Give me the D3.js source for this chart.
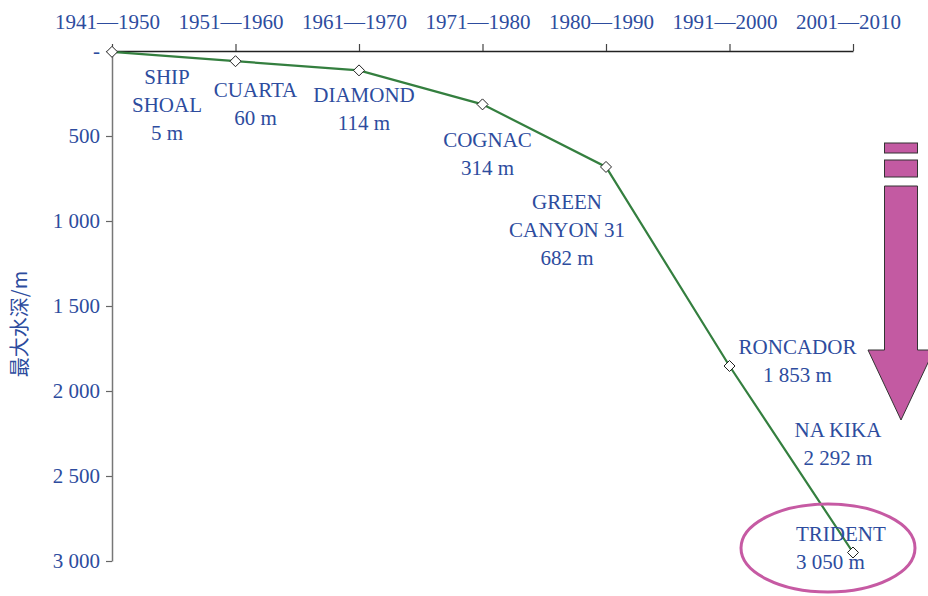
<!DOCTYPE html>
<html>
<head>
<meta charset="utf-8">
<script src="https://cdn.jsdelivr.net/npm/d3@7"></script>
<style>
  body { margin: 0; background: #fff; }
  svg { display: block; }
  text { font-family: "Liberation Serif", "Times New Roman", serif; fill: #2d4c9e; }
</style>
</head>
<body>
<div id="chart"></div>
<script>
// decades along the top axis
var decades = ["1941—1950", "1951—1960", "1961—1970", "1971—1980", "1980—1990", "1991—2000", "2001—2010"];
// max water depth reached in each decade (as plotted)
var depths = [5, 60, 114, 314, 682, 1853, 2950];
var yTicks = [0, 500, 1000, 1500, 2000, 2500, 3000];

// project names / depth labels
var notes = [
  {decade: "1941—1950", lines: ["SHIP", "SHOAL", "5 m"]},
  {decade: "1951—1960", lines: ["CUARTA", "60 m"]},
  {decade: "1961—1970", lines: ["DIAMOND", "114 m"]},
  {decade: "1971—1980", lines: ["COGNAC", "314 m"]},
  {decade: "1980—1990", lines: ["GREEN", "CANYON 31", "682 m"]},
  {decade: "1991—2000", lines: ["RONCADOR", "1 853 m"]},
  {decade: "2001—2010", lines: ["NA KIKA", "2 292 m"]},
  {decade: "2001—2010", lines: ["TRIDENT", "3 050 m"]}
];
// where each note sits (offset from its decade / depth in m)
var noteDx = [55, 20, 5, 5, -39, 68, -15, -57];
var noteDepth = [195, 270, 300, 565, 930, 1780, 2270, 2880];
var noteAnchor = ["middle", "middle", "middle", "middle", "middle", "middle", "middle", "start"];

var width = 928, height = 596;
var svg = d3.select("#chart").append("svg")
  .attr("width", width)
  .attr("height", height);

var x = d3.scalePoint().domain(decades).range([112, 853]);
var y = d3.scaleLinear().domain([0, 3000]).range([51, 561]);

// top axis
var xAxisG = svg.append("g").attr("transform", "translate(0," + y(0) + ")")
  .call(d3.axisTop(x).tickSize(7).tickPadding(15).tickSizeOuter(0));
xAxisG.select(".domain").attr("stroke", "#222").attr("stroke-width", 1.5);
xAxisG.selectAll(".tick line").attr("stroke", "#444").attr("stroke-width", 1.2);
xAxisG.selectAll(".tick text")
  .attr("font-size", 21)
  .attr("font-family", "Liberation Serif")
  .attr("fill", "#2d4c9e")
  .attr("dx", -5);

// left axis
var yAxisG = svg.append("g").attr("transform", "translate(" + x(decades[0]) + ",0)")
  .call(d3.axisLeft(y).tickValues(yTicks).tickSize(6).tickPadding(6).tickSizeOuter(0)
    .tickFormat(function (d) {
      if (d == 0) return "-";
      return d3.format(",")(d).replace(",", " ");
    }));
yAxisG.select(".domain").attr("stroke", "#777").attr("stroke-width", 1.5);
yAxisG.selectAll(".tick line").attr("stroke", "#666").attr("stroke-width", 1.2);
yAxisG.selectAll(".tick text")
  .attr("font-size", 21)
  .attr("font-family", "Liberation Serif")
  .attr("fill", "#2d4c9e");

// y axis title
svg.append("text")
  .attr("transform", "translate(27,324) rotate(-90)")
  .attr("text-anchor", "middle")
  .style("font-family", "'Noto Sans CJK SC', sans-serif")
  .attr("font-size", 20)
  .text("最大水深/m");

// arrow on the right
var ax = 901, hw = 16.5;
svg.append("rect").attr("x", ax - hw).attr("y", 143).attr("width", hw * 2).attr("height", 10)
  .attr("fill", "#c35aa2").attr("stroke", "#333").attr("stroke-width", 1);
svg.append("rect").attr("x", ax - hw).attr("y", 160).attr("width", hw * 2).attr("height", 17)
  .attr("fill", "#c35aa2").attr("stroke", "#333").attr("stroke-width", 1);
svg.append("path")
  .attr("d", "M" + (ax - hw) + ",186 L" + (ax + hw) + ",186 L" + (ax + hw) + ",350 L" + (ax + 33) + ",350 L" + ax + ",420 L" + (ax - 33) + ",350 L" + (ax - hw) + ",350 Z")
  .attr("fill", "#c35aa2").attr("stroke", "#333").attr("stroke-width", 1);

// depth line
var line = d3.line()
  .x(function (d, i) { return x(decades[i]); })
  .y(function (d) { return y(d); });

svg.append("path")
  .datum(depths)
  .attr("d", line)
  .attr("fill", "none")
  .attr("stroke", "#347f3f")
  .attr("stroke-width", 2.2);

svg.selectAll("path.pt")
  .data(depths)
  .enter().append("path")
  .attr("class", "pt")
  .attr("transform", function (d, i) { return "translate(" + x(decades[i]) + "," + y(d) + ")"; })
  .attr("d", "M0,-5.5 L5.5,0 L0,5.5 L-5.5,0 Z")
  .attr("fill", "#fff")
  .attr("stroke", "#222")
  .attr("stroke-width", 1);

// annotations
notes.forEach(function (n, k) {
  var t = svg.append("text")
    .attr("x", x(n.decade) + noteDx[k])
    .attr("y", y(noteDepth[k]))
    .attr("text-anchor", noteAnchor[k])
    .attr("font-size", 21);
  n.lines.forEach(function (s, j) {
    t.append("tspan")
      .attr("x", x(n.decade) + noteDx[k])
      .attr("dy", j == 0 ? 0 : 28)
      .text(s);
  });
});

// highlight ellipse round the deepest one
svg.append("ellipse")
  .attr("cx", 828).attr("cy", 548)
  .attr("rx", 87).attr("ry", 44)
  .attr("fill", "none")
  .attr("stroke", "#c65aa3")
  .attr("stroke-width", 3);
</script>
</body>
</html>
